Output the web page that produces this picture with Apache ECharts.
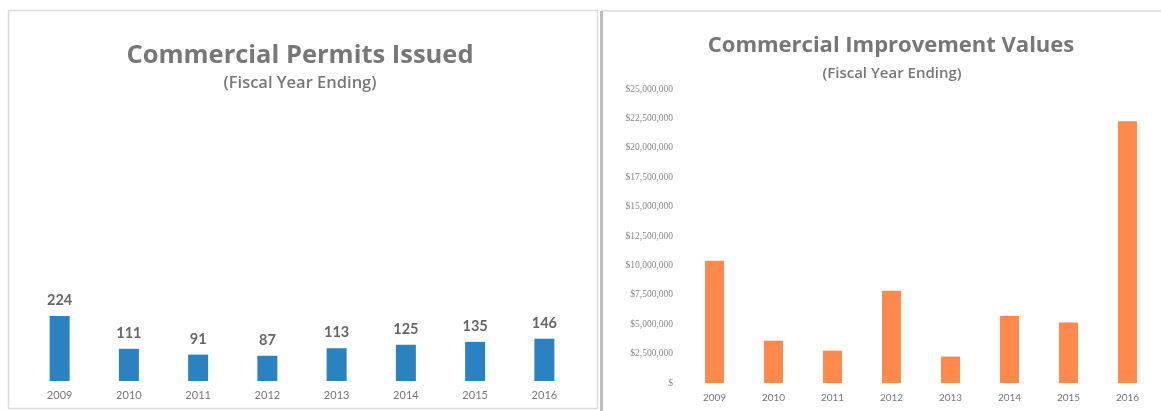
<!DOCTYPE html>
<html><head><meta charset="utf-8">
<script src="https://cdn.jsdelivr.net/npm/echarts@6/dist/echarts.min.js"></script>
<style>html,body{margin:0;padding:0;background:#fff}#c{width:1161px;height:411px}</style>
</head><body><div id="c"></div>
<script>
const years = ['2009','2010','2011','2012','2013','2014','2015','2016'];
const permits = [224, 111, 91, 87, 113, 125, 135, 146];
const improvementValues = [10400000, 3600000, 2750000, 7850000, 2250000, 5700000, 5150000, 22250000];
const valueTicks = [0, 2500000, 5000000, 7500000, 10000000, 12500000, 15000000, 17500000, 20000000, 22500000, 25000000];

const chart = echarts.init(document.getElementById('c'), null, {renderer:'canvas'});
const font = 'Lato, "Open Sans", sans-serif';
const tfont = '"Open Sans", sans-serif';
function money(v){ if(v===0) return '$'; return '$' + v.toString().replace(/\B(?=(\d{3})+(?!\d))/g, ','); }

chart.setOption({
  animation:false,
  textStyle:{fontFamily:font},
  graphic:[
    {type:'rect', shape:{x:8.5,y:10.5,width:589,height:398}, style:{fill:'none',stroke:'#dcdcdc',lineWidth:1.5}},
    {type:'line', shape:{x1:601,y1:11,x2:1161,y2:11}, style:{stroke:'#dcdcdc',lineWidth:1.5}},
    {type:'line', shape:{x1:601.5,y1:11,x2:601.5,y2:411}, style:{stroke:'#bdbdbd',lineWidth:3}}
  ],
  title:[
    {text:'Commercial Permits Issued', left:295, top:38, textAlign:'center',
     textStyle:{fontFamily:tfont,fontSize:25.5,fontWeight:'bold',color:'#777'}},
    {text:'(Fiscal Year Ending)', left:295, top:70, textAlign:'center',
     textStyle:{fontFamily:tfont,fontSize:16.5,fontWeight:600,color:'#777'}},
    {text:'Commercial Improvement Values', left:886, top:30, textAlign:'center',
     textStyle:{fontFamily:tfont,fontSize:22,fontWeight:'bold',color:'#777'}},
    {text:'(Fiscal Year Ending)', left:887, top:61, textAlign:'center',
     textStyle:{fontFamily:tfont,fontSize:15,fontWeight:600,color:'#777'}}
  ],
  grid:[
    {left:25, top:91, width:554, height:290},
    {left:685, top:89, width:472, height:294}
  ],
  xAxis:[
    {type:'category', gridIndex:0, data:years, axisLine:{show:false}, axisTick:{show:false},
     axisLabel:{color:'#777',fontSize:11,margin:9,fontFamily:font}},
    {type:'category', gridIndex:1, data:years, axisLine:{show:false}, axisTick:{show:false},
     axisLabel:{color:'#777',fontSize:10,margin:10,fontFamily:font}}
  ],
  yAxis:[
    {type:'value', gridIndex:0, min:0, max:1000, show:false},
    {type:'value', gridIndex:1, min:valueTicks[0], max:valueTicks[valueTicks.length-1], interval:2500000,
     axisLine:{show:false}, axisTick:{show:false}, splitLine:{show:false},
     axisLabel:{color:'#888',fontSize:9.5,margin:12,fontFamily:'"Liberation Serif", serif',formatter:money}}
  ],
  series:[
    {type:'bar', xAxisIndex:0, yAxisIndex:0, data:permits, barWidth:20,
     itemStyle:{color:'#2B82C0'},
     label:{show:true,position:'top',distance:8,color:'#666',fontSize:14.5,fontWeight:'bold',fontFamily:font}},
    {type:'bar', xAxisIndex:1, yAxisIndex:1, data:improvementValues, barWidth:19,
     itemStyle:{color:'#FF8A4C'}}
  ]
});
</script></body></html>
